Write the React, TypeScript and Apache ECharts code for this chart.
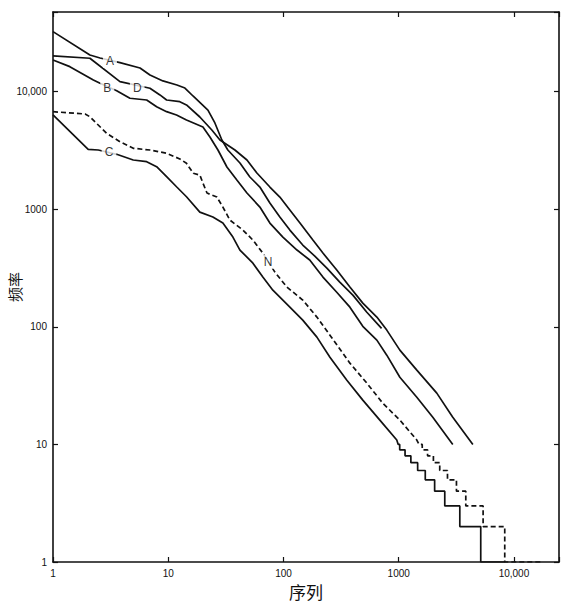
import React, { useEffect, useRef } from 'react';
import * as echarts from 'echarts';

// Tick labels (powers of ten)
const xTickLabels = ['1', '10', '100', '1000', '10,000'];
const yTickLabels = ['1', '10', '100', '1000', '10,000'];

const xName = '序列';
const yName = '频率';

const xMin = 1;
const xMax = 24600;
const yMin = 1;
const yMax = 47600;

// Rank / frequency curves: [rank, frequency]
const seriesA: number[][] = [
  [1, 32400], [2.09, 20500], [2.56, 19350], [3.81, 17650], [5.69, 15900], [6.94, 13870],
  [8.99, 12340], [11.9, 11400], [13.95, 10740], [16.4, 9190], [22.1, 6980], [25.4, 5420],
  [29.2, 3880], [32.9, 3190], [41.9, 2473], [51.1, 1880], [62.4, 1545], [76.2, 1130],
  [93, 859], [113.6, 665], [147, 496], [187, 400], [238, 316], [308, 240], [400, 186],
  [529, 133], [710, 97],
];

const seriesD: number[][] = [
  [1, 20140], [2.09, 19250], [3.81, 12170], [6.94, 10690], [8.47, 9380], [9.68, 8500],
  [12.6, 8220], [14.4, 7710], [18.8, 6090], [23.9, 4720], [28.1, 3880], [37.9, 3190],
  [48.2, 2624], [58.8, 2033], [76.2, 1545], [93, 1270], [113.6, 985], [139, 763],
  [180, 547], [220, 424], [290, 304], [377, 218], [488, 159], [646, 121], [788, 93.8],
  [1023, 63.4], [1436, 42.8], [2140, 27.3], [2946, 17], [4400, 10],
];

const seriesB: number[][] = [
  [1, 18620], [1.4, 16320], [2.24, 12580], [2.56, 11790], [3.57, 10200], [4.65, 8790],
  [6.5, 8500], [7.93, 7450], [9.68, 6760], [11.8, 6340], [14.4, 5740], [20, 5010],
  [23, 4114], [27, 3190], [32.3, 2287], [39.4, 1773], [48.2, 1374], [62.4, 1044],
  [76.2, 763], [98.8, 580], [131, 450], [169, 370], [220, 265], [290, 197], [377, 147],
  [488, 101], [646, 77.1], [788, 57.4], [1023, 37.3], [1436, 25.2], [1976, 17], [2946, 10],
];

const seriesN: number[][] = [
  [1, 6760], [1.9, 6460], [2.09, 6120], [2.92, 4425], [3.81, 3752], [4.97, 3300],
  [6.94, 3190], [9.68, 2992], [12.6, 2680], [14.4, 2459], [16.5, 2022], [18.8, 1955],
  [20, 1671], [21.7, 1374], [26.4, 1270], [29.8, 1044], [34.3, 809], [44.5, 665],
  [54.3, 547], [66.2, 424], [84.2, 292], [107, 218], [147, 169], [195, 121], [253, 85],
  [377, 49.1], [529, 33.2], [728, 22.4], [1023, 16.1], [1436, 10.9], [1500, 10],
  [1600, 10], [1600, 9], [1780, 9], [1780, 8], [2000, 8], [2000, 7], [2270, 7], [2270, 6],
  [2650, 6], [2650, 5], [3170, 5], [3170, 4], [3820, 4], [3820, 3], [5400, 3], [5400, 2],
  [8320, 2], [8320, 1], [17800, 1],
];

const seriesC: number[][] = [
  [1, 6340], [2.02, 3235], [2.47, 3190], [3.57, 2933], [4.97, 2624], [6.5, 2537],
  [7.93, 2300], [9.68, 1891], [11.8, 1554], [14.4, 1277], [18.8, 946], [24.4, 859],
  [29.8, 763], [36.4, 580], [41.9, 450], [54.3, 348], [66.2, 265], [80.9, 205],
  [113.6, 147], [147, 114], [195, 81.7], [253, 55.2], [355, 35.2], [488, 23.8],
  [686, 16.1], [962, 10.9], [990, 10], [1020, 10], [1020, 9], [1135, 9], [1135, 8],
  [1275, 8], [1275, 7], [1460, 7], [1460, 6], [1700, 6], [1700, 5], [2050, 5], [2050, 4],
  [2510, 4], [2510, 3], [3390, 3], [3390, 2], [5150, 2], [5150, 1], [8320, 1],
];

// Curve labels placed on the curves
const labelNames = ['A', 'B', 'D', 'C', 'N'];
const labelCoords: number[][] = [
  [3.12, 18250], [2.96, 10820], [5.38, 10820], [3.06, 3085], [73.7, 357],
];

const INK = '#111111';

const makeFormatter = (labels: string[]) => (v: number) => {
  const e = Math.log10(v);
  const r = Math.round(e);
  return Math.abs(e - r) < 1e-6 && labels[r] !== undefined ? labels[r] : '';
};

export default function App() {
  const ref = useRef<HTMLDivElement>(null);

  useEffect(() => {
    document.body.style.margin = '0';
    const chart = echarts.init(ref.current as HTMLDivElement, null, { renderer: 'svg' });

    const axisLine = { show: true, lineStyle: { color: INK, width: 1.6 } };
    const axisTick = { show: true, inside: true, length: 5, lineStyle: { color: INK, width: 1.2 } };

    const lineSeries = (name: string, data: number[][], dashed = false) => ({
      type: 'line',
      name,
      data,
      xAxisIndex: 0,
      yAxisIndex: 0,
      symbol: 'none',
      silent: true,
      lineStyle: { color: INK, width: 1.7, type: dashed ? [5, 3] : 'solid' },
      z: 2,
    });

    const option: any = {
      animation: false,
      backgroundColor: '#ffffff',
      grid: { left: 53, right: 7, top: 12, bottom: 48, containLabel: false, outerBoundsMode: 'none' },
      xAxis: [
        {
          type: 'log',
          logBase: 10,
          min: xMin,
          max: xMax,
          position: 'bottom',
          name: xName,
          nameLocation: 'middle',
          nameGap: 21,
          nameMoveOverlap: false,
          nameTextStyle: { fontSize: 17, color: INK, fontFamily: 'Noto Sans CJK SC' },
          axisLine,
          axisTick,
          minorTick: { show: false },
          splitLine: { show: false },
          axisLabel: {
            formatter: makeFormatter(xTickLabels),
            fontSize: 10,
            color: INK,
            margin: 6,
            fontFamily: 'Liberation Sans',
          },
        },
        {
          type: 'log',
          logBase: 10,
          min: xMin,
          max: xMax,
          position: 'top',
          axisLine,
          axisTick,
          splitLine: { show: false },
          axisLabel: { show: false },
        },
      ],
      yAxis: [
        {
          type: 'log',
          logBase: 10,
          min: yMin,
          max: yMax,
          position: 'left',
          name: yName,
          nameLocation: 'middle',
          nameGap: 31,
          nameMoveOverlap: false,
          nameTextStyle: { fontSize: 15, color: INK, fontFamily: 'Noto Sans CJK SC' },
          axisLine,
          axisTick,
          minorTick: { show: false },
          splitLine: { show: false },
          axisLabel: {
            formatter: makeFormatter(yTickLabels),
            fontSize: 10,
            color: INK,
            margin: 6,
            fontFamily: 'Liberation Sans',
          },
        },
        {
          type: 'log',
          logBase: 10,
          min: yMin,
          max: yMax,
          position: 'right',
          axisLine,
          axisTick,
          splitLine: { show: false },
          axisLabel: { show: false },
        },
      ],
      series: [
        lineSeries('A', seriesA),
        lineSeries('D', seriesD),
        lineSeries('B', seriesB),
        lineSeries('N', seriesN, true),
        lineSeries('C', seriesC),
        {
          type: 'scatter',
          name: 'labels',
          xAxisIndex: 0,
          yAxisIndex: 0,
          silent: true,
          symbolSize: 1,
          itemStyle: { color: 'rgba(0,0,0,0)' },
          z: 10,
          labelLayout: { hideOverlap: false },
          data: labelNames.map((n, i) => ({ name: n, value: labelCoords[i] })),
          label: {
            show: true,
            position: 'inside',
            formatter: '{b}',
            fontSize: 12,
            color: '#000000',
            fontFamily: 'Liberation Sans',
            backgroundColor: '#ffffff',
            padding: [1, 3],
          },
          emphasis: { disabled: true },
        },
      ],
    };

    chart.setOption(option);
    return () => chart.dispose();
  }, []);

  return <div ref={ref} style={{ width: 566, height: 610 }} />;
}
